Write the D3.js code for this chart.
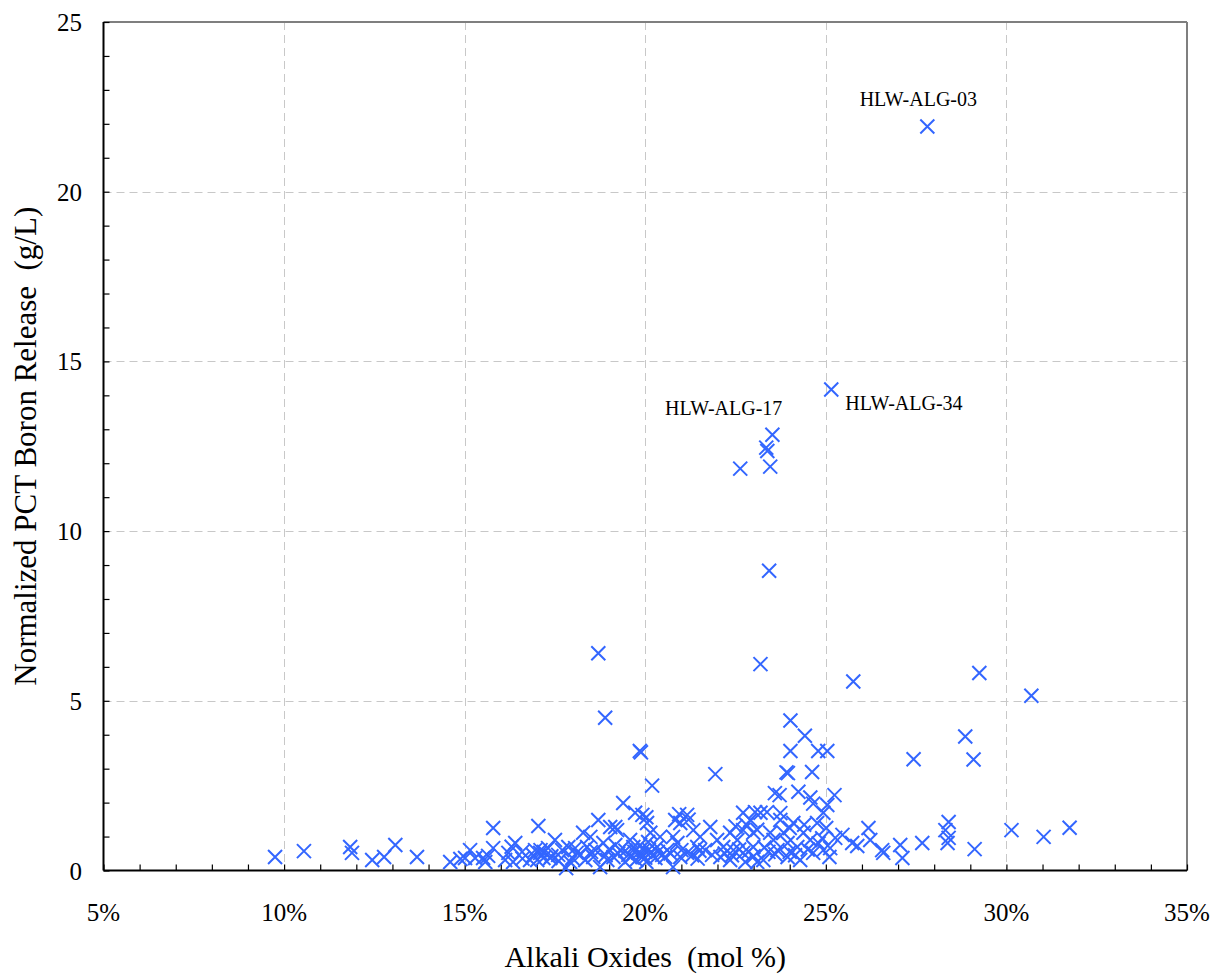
<!DOCTYPE html>
<html>
<head>
<meta charset="utf-8">
<script src="https://cdn.jsdelivr.net/npm/d3@7"></script>
<style>
  body { margin: 0; background: #fff; }
  svg { display: block; }
  svg text { font-family: "Liberation Serif", "Times New Roman", serif; }
</style>
</head>
<body>
<svg id="chart" width="1216" height="977"></svg>
<script>
// Alkali oxide content (mol %) of each glass
const alkali = [
  27.81, 25.15, 23.52, 23.35, 23.38, 23.46, 22.63, 23.43, 23.19, 18.70,
  18.89, 25.76, 29.25, 30.69, 19.85, 19.88, 20.19, 21.94, 24.02, 24.42,
  24.02, 24.79, 25.04, 23.91, 23.95, 24.62, 23.59, 23.72, 24.24, 24.57,
  24.65, 25.24, 25.04, 27.43, 28.86, 29.09, 29.12, 30.14, 31.03, 31.75,
  9.75, 10.55, 11.83, 11.88, 12.44, 12.77, 13.08, 13.68, 14.60, 14.88,
  15.15, 15.01, 15.51, 15.65, 15.79, 15.79, 16.12, 15.29, 15.57, 16.21,
  16.40, 16.59, 16.34, 16.95, 17.09, 17.18, 17.01, 16.81, 17.04, 17.50,
  17.70, 17.59, 17.87, 17.81, 17.98, 18.20, 18.28, 19.39, 18.70, 19.72,
  19.92, 20.05, 21.16, 20.97, 19.03, 19.22, 18.48, 18.39, 18.84, 19.58,
  20.14, 20.41, 20.77, 21.33, 21.52, 18.56, 18.75, 18.95, 19.31, 19.67,
  19.81, 19.95, 20.14, 19.92, 20.33, 20.61, 20.89, 20.97, 21.16, 21.44,
  21.66, 20.77, 19.12, 19.53, 19.75, 20.03, 20.28, 20.47, 19.44, 19.86,
  20.08, 19.17, 18.62, 18.34, 18.06, 17.92, 17.37, 17.31, 20.83, 19.17,
  21.80, 21.50, 21.99, 22.16, 22.35, 22.55, 22.71, 22.91, 23.19, 22.71,
  22.99, 22.44, 22.71, 22.99, 22.08, 23.46, 23.74, 24.10, 23.66, 23.94,
  23.94, 24.21, 24.38, 24.57, 24.76, 24.93, 24.65, 24.29, 24.93, 23.83,
  23.55, 23.27, 23.41, 23.10, 22.35, 21.85, 22.77, 25.01, 25.26, 25.12,
  25.10, 25.46, 25.73, 25.87, 26.18, 26.23, 26.56, 26.59, 27.06, 27.12,
  27.67, 28.40, 28.31, 28.40, 28.37, 23.04, 23.37, 23.74, 20.94, 20.03,
  16.60, 16.90, 17.20, 17.40, 17.60, 18.10, 18.50, 18.90, 19.00, 19.25,
  19.45, 19.60, 19.70, 19.90, 20.00, 20.10, 20.20, 20.35, 20.55, 20.70,
  21.00, 21.30, 21.45, 22.20, 22.40, 22.60, 22.85, 23.00, 23.30, 23.60,
  24.00, 24.15, 24.50, 24.80, 24.90, 22.50, 22.80, 23.10, 24.00, 24.40,
  21.20, 17.10, 16.30
];

// Normalized PCT boron release (g/L) for the same glasses
const boron = [
  21.92, 14.17, 12.84, 12.46, 12.36, 11.90, 11.84, 8.83, 6.08, 6.40,
  4.50, 5.57, 5.82, 5.15, 3.52, 3.48, 2.50, 2.84, 4.42, 3.97,
  3.52, 3.52, 3.52, 2.89, 2.87, 2.90, 2.28, 2.22, 2.32, 2.15,
  1.97, 2.22, 1.93, 3.28, 3.95, 3.27, 0.63, 1.19, 0.99, 1.26,
  0.40, 0.57, 0.69, 0.52, 0.31, 0.40, 0.75, 0.40, 0.25, 0.34,
  0.60, 0.37, 0.37, 0.43, 0.66, 1.25, 0.31, 0.37, 0.25, 0.52,
  0.81, 0.55, 0.25, 0.60, 0.52, 0.37, 0.31, 0.31, 1.31, 0.90,
  0.60, 0.46, 0.69, 0.07, 0.37, 0.46, 1.11, 1.99, 1.49, 1.70,
  1.64, 1.40, 1.64, 1.40, 1.28, 1.19, 0.99, 0.69, 0.81, 0.90,
  1.11, 0.99, 0.99, 1.19, 0.99, 0.40, 0.10, 0.31, 0.60, 0.69,
  0.52, 0.60, 0.52, 0.40, 0.69, 0.60, 0.81, 0.40, 0.52, 0.69,
  0.60, 0.10, 0.40, 0.46, 0.31, 0.25, 0.37, 0.46, 0.25, 0.75,
  0.84, 0.75, 0.60, 0.31, 0.66, 0.25, 0.37, 0.66, 1.49, 1.28,
  1.28, 0.58, 0.90, 0.69, 1.11, 0.90, 1.70, 1.49, 1.70, 1.19,
  1.11, 0.60, 0.52, 0.69, 0.40, 1.11, 1.49, 1.40, 0.60, 0.81,
  0.40, 0.69, 1.11, 0.90, 1.40, 1.70, 0.52, 0.31, 0.60, 1.11,
  0.90, 0.31, 0.55, 0.25, 0.31, 0.46, 0.25, 1.25, 0.96, 0.66,
  0.40, 1.05, 0.81, 0.72, 1.25, 0.90, 0.60, 0.52, 0.75, 0.37,
  0.81, 1.43, 1.19, 0.96, 0.81, 1.72, 1.72, 1.69, 1.66, 1.57,
  0.35, 0.45, 0.55, 0.42, 0.28, 0.52, 0.55, 0.45, 0.62, 0.50,
  0.58, 0.40, 0.55, 0.48, 0.38, 0.62, 0.45, 0.55, 0.40, 0.50,
  0.60, 0.45, 0.35, 0.50, 0.45, 0.62, 0.55, 0.42, 0.68, 0.48,
  0.55, 0.45, 0.62, 0.80, 0.95, 1.30, 1.35, 1.20, 1.25, 1.35,
  1.50, 0.60, 0.70
];

// Labelled glasses: index into the arrays above
const labelNames = ["HLW-ALG-03", "HLW-ALG-34", "HLW-ALG-17"];
const labelIndex = [0, 1, 2];

const xTicks = [5, 10, 15, 20, 25, 30, 35];
const yTicks = [0, 5, 10, 15, 20, 25];

const svg = d3.select("#chart");
const m = { left: 103.5, right: 1187, top: 22, bottom: 870.5 };

const x = d3.scaleLinear().domain([5, 35]).range([m.left, m.right]);
const y = d3.scaleLinear().domain([0, 25]).range([m.bottom, m.top]);

// Dashed grid at major ticks
const grid = svg.append("g").attr("stroke", "#c8c8c8").attr("stroke-width", 1)
  .attr("stroke-dasharray", "8,5");
grid.selectAll("line.v").data(xTicks.slice(1, -1)).join("line")
  .attr("x1", d => Math.round(x(d)) + 0.5).attr("x2", d => Math.round(x(d)) + 0.5)
  .attr("y1", m.top).attr("y2", m.bottom);
grid.selectAll("line.h").data(yTicks.slice(1, -1)).join("line")
  .attr("y1", d => Math.round(y(d)) + 0.5).attr("y2", d => Math.round(y(d)) + 0.5)
  .attr("x1", m.left).attr("x2", m.right);

// Frame: top and right in grey
svg.append("line").attr("x1", m.left).attr("x2", m.right).attr("y1", m.top).attr("y2", m.top)
  .attr("stroke", "#7f7f7f").attr("stroke-width", 2);
svg.append("line").attr("x1", m.right).attr("x2", m.right).attr("y1", m.top).attr("y2", m.bottom)
  .attr("stroke", "#7f7f7f").attr("stroke-width", 2);

// Axes with inward minor ticks
const xAxis = d3.axisBottom(x).tickValues(d3.range(5, 36, 1)).tickSize(-6).tickFormat("");
const gx = svg.append("g").attr("transform", `translate(0,${m.bottom})`).call(xAxis);
gx.select(".domain").attr("stroke", "#000").attr("stroke-width", 2).attr("d", `M${m.left},0H${m.right}`);
gx.selectAll(".tick line").attr("stroke", "#000").attr("stroke-width", 1.2);

const yAxis = d3.axisLeft(y).tickValues(d3.range(0, 26, 1)).tickSize(-6).tickFormat("");
const gy = svg.append("g").attr("transform", `translate(${m.left},0)`).call(yAxis);
gy.select(".domain").attr("stroke", "#000").attr("stroke-width", 2).attr("d", `M0,${m.top}V${m.bottom}`);
gy.selectAll(".tick line").attr("stroke", "#000").attr("stroke-width", 1.2);

// Tick labels
svg.append("g").selectAll("text").data(xTicks).join("text")
  .attr("x", d => x(d)).attr("y", 921)
  .attr("text-anchor", "middle").attr("font-size", 25).attr("fill", "#000")
  .text(d => d + "%");
svg.append("g").selectAll("text").data(yTicks).join("text")
  .attr("x", 82).attr("y", d => y(d) + 9)
  .attr("text-anchor", "end").attr("font-size", 25).attr("fill", "#000")
  .text(d => d);

// Axis titles
svg.append("text").attr("x", (m.left + m.right) / 2).attr("y", 967)
  .attr("text-anchor", "middle").attr("font-size", 30).attr("fill", "#000")
  .attr("xml:space", "preserve")
  .text("Alkali Oxides  (mol %)");
svg.append("text").attr("transform", `translate(36,${(m.top + m.bottom) / 2}) rotate(-90)`)
  .attr("text-anchor", "middle").attr("font-size", 31).attr("fill", "#000")
  .attr("xml:space", "preserve")
  .text("Normalized PCT Boron Release  (g/L)");

// Points drawn as crosses
const pts = alkali.map((a, i) => ({ a, b: boron[i] }));
const r = 7;
svg.append("g").attr("stroke", "#3366ff").attr("stroke-width", 2).attr("fill", "none")
  .selectAll("path").data(pts).join("path")
  .attr("d", d => {
    const cx = x(d.a), cy = y(d.b);
    return `M${cx - r},${cy - r}L${cx + r},${cy + r}M${cx - r},${cy + r}L${cx + r},${cy - r}`;
  });

// Point labels
const offsets = [
  { dx: -9, dy: -21, anchor: "middle" },
  { dx: 14, dy: 20, anchor: "start" },
  { dx: 10, dy: -20, anchor: "end" }
];
svg.append("g").selectAll("text").data(labelIndex).join("text")
  .attr("x", (d, i) => x(alkali[d]) + offsets[i].dx)
  .attr("y", (d, i) => y(boron[d]) + offsets[i].dy)
  .attr("text-anchor", (d, i) => offsets[i].anchor)
  .attr("font-size", 20).attr("fill", "#000")
  .text((d, i) => labelNames[i]);
</script>
</body>
</html>
